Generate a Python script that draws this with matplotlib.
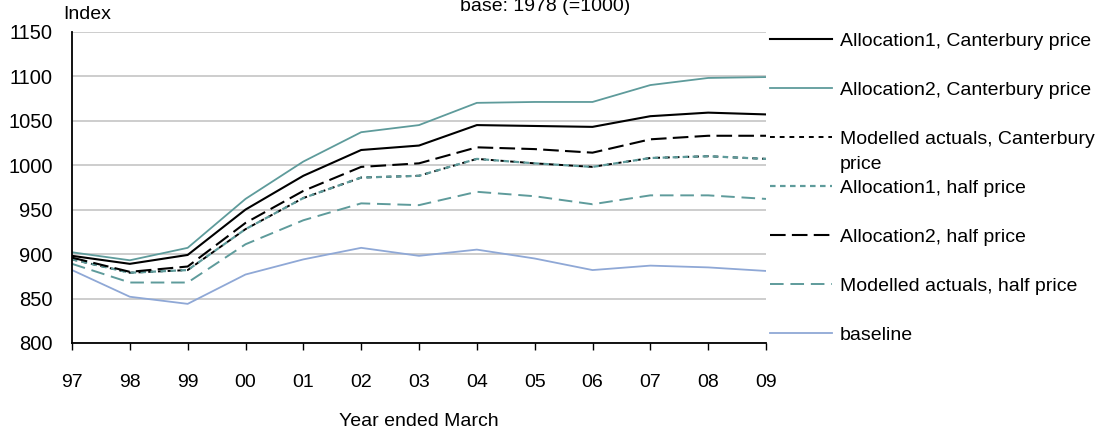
import matplotlib
matplotlib.use("Agg")
import matplotlib.pyplot as plt
import numpy as np

plt.rcParams['font.family'] = ['Liberation Sans', 'DejaVu Sans']

years = ["97", "98", "99", "00", "01", "02", "03", "04", "05", "06", "07", "08", "09"]

alloc1_cant = [898, 889, 899, 950, 988, 1017, 1022, 1045, 1044, 1043, 1055, 1059, 1057]
alloc2_cant = [902, 893, 907, 962, 1004, 1037, 1045, 1070, 1071, 1071, 1090, 1098, 1099]
modelled_cant = [894, 879, 882, 928, 963, 986, 988, 1007, 1002, 998, 1008, 1010, 1007]
alloc1_half = [894, 879, 882, 928, 963, 986, 988, 1007, 1002, 998, 1008, 1010, 1007]
alloc2_half = [896, 880, 886, 935, 971, 998, 1002, 1020, 1018, 1014, 1029, 1033, 1033]
modelled_half = [889, 868, 868, 911, 938, 957, 955, 970, 965, 956, 966, 966, 962]
baseline = [882, 852, 844, 877, 894, 907, 898, 905, 895, 882, 887, 885, 881]

yticks = [800, 850, 900, 950, 1000, 1050, 1100, 1150]

TEAL = "#5E9B9B"
BLUE = "#8FA8D6"
GRID = "#C9C9C9"

W, H = 1102, 430
fig = plt.figure(figsize=(W / 100, H / 100), dpi=100)
ax = fig.add_axes([72 / W, 1 - 343 / H, (766 - 72) / W, (343 - 31.7) / H])

x = np.arange(len(years))
ax.plot(x, alloc1_cant, color="black", lw=1.5, label="Allocation1, Canterbury price")
ax.plot(x, alloc2_cant, color=TEAL, lw=1.3, label="Allocation2, Canterbury price")
ax.plot(x, modelled_cant, color="black", lw=1.4, dashes=(2.5, 2.5),
        label="Modelled actuals, Canterbury")
ax.plot(x, alloc1_half, color=TEAL, lw=1.6, dashes=(2.5, 2.0), label="Allocation1, half price")
ax.plot(x, alloc2_half, color="black", lw=1.5, dashes=(7.5, 3.0), label="Allocation2, half price")
ax.plot(x, modelled_half, color=TEAL, lw=1.4, dashes=(7.0, 3.5), label="Modelled actuals, half price")
ax.plot(x, baseline, color=BLUE, lw=1.3, label="baseline")

ax.set_xlim(0, len(years) - 1)
ax.set_ylim(800, 1150)
ax.set_xticks(x)
ax.set_xticklabels(years, fontsize=14)
ax.set_yticks(yticks)
ax.set_yticklabels([str(v) for v in yticks], fontsize=14.5)
ax.tick_params(axis="y", length=0, pad=14)
ax.tick_params(axis="x", length=5, width=1.0, direction="out", pad=17)
ax.grid(axis="y", color=GRID, lw=1.3)
ax.set_axisbelow(True)
for s in ["top", "right"]:
    ax.spines[s].set_visible(False)
for s in ["left", "bottom"]:
    ax.spines[s].set_linewidth(1.3)
    ax.spines[s].set_color("black")

ax.set_xlabel("Year ended March", fontsize=14, labelpad=16)

fig.text(63 / W, 1 - 19 / H, "Index", fontsize=14, ha="left", va="baseline")
fig.text(545 / W, 1 - 11 / H, "base: 1978 (=1000)", fontsize=14, ha="center", va="baseline")

leg = ax.legend(loc="upper left", bbox_to_anchor=(770 / W, 1 - 32 / H),
                bbox_transform=fig.transFigure, frameon=False, fontsize=14,
                handlelength=3.2, handletextpad=0.4, labelspacing=1.62,
                borderpad=0, borderaxespad=0)

# wrapped continuation of the third legend label
fig.canvas.draw()
t3 = leg.get_texts()[2]
bb = t3.get_window_extent(renderer=fig.canvas.get_renderer())
fig.text(bb.x0 / W, (bb.y0 - 25) / H, "price", fontsize=14, ha="left", va="bottom")

fig.savefig("out.png", dpi=100)
